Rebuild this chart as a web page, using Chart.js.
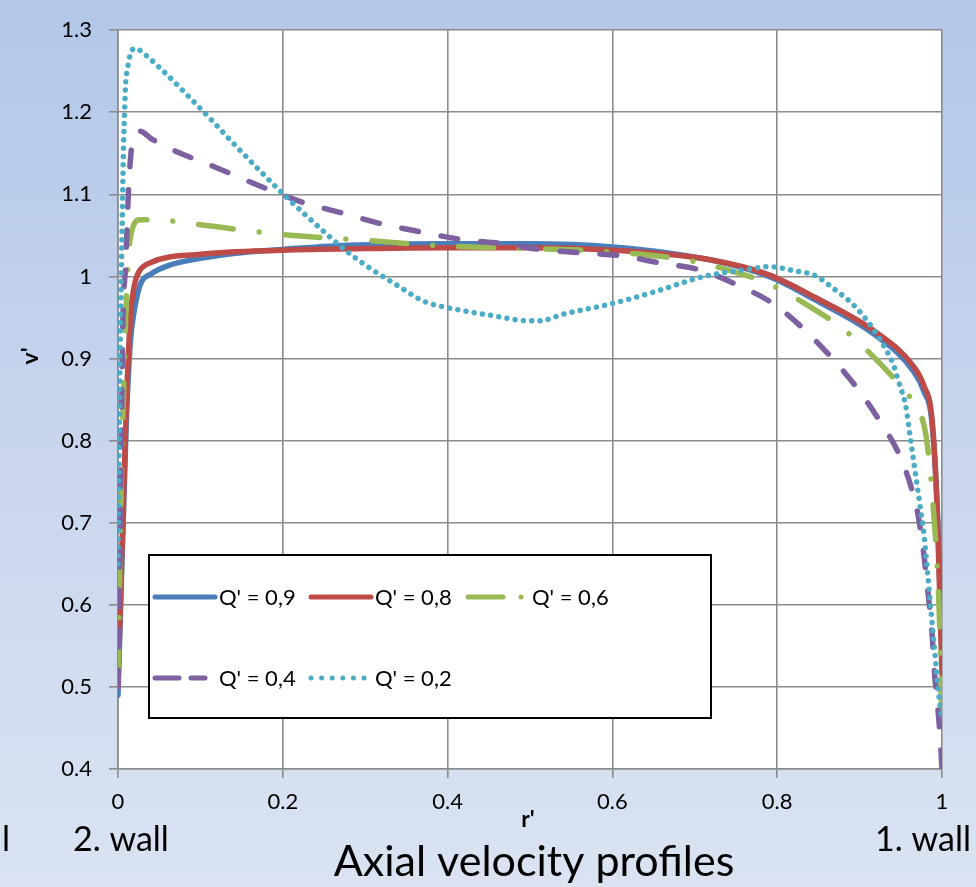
<!DOCTYPE html>
<html>
<head>
<meta charset="utf-8">
<script src="https://cdn.jsdelivr.net/npm/chart.js@4/dist/chart.umd.min.js"></script>
<style>
html,body{margin:0;padding:0;}
body{width:976px;height:887px;overflow:hidden;background:linear-gradient(180deg,#b3c7e8 0%,#c6d4ed 45%,#dbe3f2 100%);}
canvas{display:block;}
</style>
</head>
<body>
<canvas id="c" width="976" height="887"></canvas>
<script>
// ---- data ----
const seriesNames = ["Q' = 0,9", "Q' = 0,8", "Q' = 0,6", "Q' = 0,4", "Q' = 0,2"];
const xTicks = [0, 0.2, 0.4, 0.6, 0.8, 1];
const yTicks = [0.4, 0.5, 0.6, 0.7, 0.8, 0.9, 1, 1.1, 1.2, 1.3];

const r09 = [0, 0.01, 0.015, 0.02, 0.027, 0.04, 0.06, 0.1, 0.14, 0.2, 0.28, 0.4, 0.5, 0.6, 0.72, 0.79, 0.845, 0.92, 0.965, 0.978, 0.988, 0.995, 1];
const v09 = [0.49, 0.82, 0.92, 0.96, 0.99, 1.003, 1.013, 1.022, 1.028, 1.033, 1.038, 1.04, 1.04, 1.036, 1.02, 1.0, 0.972, 0.928, 0.885, 0.86, 0.82, 0.7, 0.53];

const r08 = [0, 0.01, 0.015, 0.02, 0.025, 0.04, 0.1, 0.2, 0.3, 0.4, 0.5, 0.6, 0.72, 0.79, 0.845, 0.92, 0.965, 0.978, 0.988, 0.994, 1];
const v08 = [0.5, 0.84, 0.95, 0.99, 1.005, 1.017, 1.027, 1.032, 1.034, 1.035, 1.035, 1.032, 1.02, 1.002, 0.975, 0.932, 0.891, 0.867, 0.825, 0.72, 0.515];

const r06 = [0, 0.004, 0.008, 0.011, 0.014, 0.018, 0.027, 0.06, 0.1, 0.2, 0.3, 0.4, 0.5, 0.6, 0.69, 0.74, 0.79, 0.84, 0.88, 0.92, 0.955, 0.97, 0.98, 0.986, 0.99, 0.994, 0.997, 1];
const v06 = [0.51, 0.75, 0.9, 1.0, 1.04, 1.06, 1.069, 1.068, 1.063, 1.051, 1.044, 1.037, 1.034, 1.03, 1.02, 1.008, 0.991, 0.963, 0.936, 0.899, 0.86, 0.84, 0.81, 0.76, 0.71, 0.65, 0.58, 0.45];

const r04 = [0, 0.002, 0.004, 0.006, 0.009, 0.011, 0.013, 0.017, 0.027, 0.04, 0.067, 0.116, 0.18, 0.225, 0.273, 0.32, 0.369, 0.417, 0.466, 0.512, 0.56, 0.612, 0.66, 0.706, 0.751, 0.795, 0.831, 0.866, 0.897, 0.925, 0.949, 0.965, 0.971, 0.978, 0.983, 0.988, 0.991, 0.994, 0.997, 1];
const v04 = [0.5, 0.65, 0.8, 0.95, 1.01, 1.06, 1.11, 1.16, 1.177, 1.168, 1.154, 1.134, 1.107, 1.09, 1.077, 1.064, 1.054, 1.045, 1.04, 1.033, 1.029, 1.025, 1.016, 1.008, 0.99, 0.967, 0.937, 0.901, 0.864, 0.823, 0.781, 0.735, 0.709, 0.661, 0.615, 0.564, 0.516, 0.485, 0.449, 0.4];

const r02 = [0, 0.002, 0.003, 0.004, 0.005, 0.006, 0.007, 0.008, 0.009, 0.012, 0.015, 0.021, 0.033, 0.054, 0.084, 0.114, 0.143, 0.173, 0.203, 0.234, 0.255, 0.277, 0.3, 0.336, 0.373, 0.4, 0.45, 0.5, 0.512, 0.54, 0.6, 0.65, 0.7, 0.72, 0.76, 0.79, 0.82, 0.846, 0.87, 0.892, 0.91, 0.926, 0.94, 0.948, 0.956, 0.962, 0.968, 0.974, 0.978, 0.982, 0.987, 0.991, 0.996, 1];
const v02 = [0.65, 0.86, 0.95, 1.0, 1.06, 1.12, 1.17, 1.2, 1.23, 1.256, 1.271, 1.278, 1.27, 1.251, 1.221, 1.19, 1.159, 1.128, 1.098, 1.069, 1.05, 1.031, 1.014, 0.991, 0.969, 0.962, 0.953, 0.946, 0.946, 0.954, 0.967, 0.981, 0.997, 1.002, 1.008, 1.012, 1.007, 1.001, 0.984, 0.966, 0.945, 0.921, 0.895, 0.87, 0.842, 0.8, 0.758, 0.716, 0.687, 0.645, 0.589, 0.545, 0.491, 0.46];

// ---- styles ----
const colors = ['#4a7ebb', '#be4b48', '#98b954', '#7d60a0', '#4aacc5'];
const dashes = [[], [], [35, 26, 0.01, 26], [17, 23], [0.01, 8.3]];
const legendDashes = [[], [], [35, 18, 0.01, 40], [24, 12], [0.01, 10.6]];
const legendSamples = [60, 60, 56, 50, 54];

const rs = [r09, r08, r06, r04, r02];
const vs = [v09, v08, v06, v04, v02];
const FONT = 'Lato, "Liberation Sans", sans-serif';

const datasets = seriesNames.map((name, i) => ({
  label: name,
  data: rs[i].map((r, k) => ({x: r, y: vs[i][k]})),
  borderColor: colors[i],
  backgroundColor: colors[i],
  borderWidth: 5.5,
  borderDash: dashes[i],
  borderCapStyle: 'round',
  borderJoinStyle: 'round',
  pointRadius: 0,
  cubicInterpolationMode: 'monotone',
  fill: false,
  order: seriesNames.length - i
}));

const bgPlugin = {
  id: 'plotBg',
  beforeDraw(chart) {
    const {ctx, chartArea: a} = chart;
    ctx.save();
    ctx.fillStyle = '#ffffff';
    ctx.fillRect(a.left, a.top, a.right - a.left, a.bottom - a.top);
    ctx.restore();
  }
};

const legendPlugin = {
  id: 'boxLegend',
  afterDraw(chart, args, opts) {
    const ctx = chart.ctx;
    const b = opts.box;
    ctx.save();
    ctx.fillStyle = '#ffffff';
    ctx.fillRect(b.x, b.y, b.w, b.h);
    ctx.strokeStyle = '#000000';
    ctx.lineWidth = 2;
    ctx.strokeRect(b.x, b.y, b.w, b.h);
    chart.data.datasets.forEach((ds, i) => {
      const row = Math.floor(i / 3), col = i % 3;
      const x0 = b.x + opts.colX[col];
      const y0 = b.y + opts.rowY[row];
      ctx.strokeStyle = ds.borderColor;
      ctx.lineWidth = 5;
      ctx.lineCap = 'round';
      ctx.setLineDash(legendDashes[i]);
      ctx.beginPath();
      ctx.moveTo(x0, y0);
      ctx.lineTo(x0 + legendSamples[i], y0);
      ctx.stroke();
      ctx.setLineDash([]);
      ctx.fillStyle = '#000000';
      ctx.font = opts.font;
      ctx.textAlign = 'left';
      ctx.textBaseline = 'middle';
      ctx.fillText(ds.label, x0 + opts.textX, y0 + 1);
    });
    ctx.restore();
  }
};

const textPlugin = {
  id: 'extraText',
  afterDraw(chart, args, opts) {
    const ctx = chart.ctx;
    ctx.save();
    ctx.fillStyle = '#000000';
    opts.items.forEach(t => {
      ctx.save();
      ctx.font = t.font;
      ctx.textAlign = t.align;
      ctx.textBaseline = 'middle';
      ctx.translate(t.x, t.y);
      if (t.rot) ctx.rotate(t.rot);
      ctx.fillText(t.text, 0, 0);
      ctx.restore();
    });
    ctx.restore();
  }
};

new Chart(document.getElementById('c'), {
  type: 'line',
  data: {datasets},
  plugins: [bgPlugin, legendPlugin, textPlugin],
  options: {
    responsive: false,
    animation: false,
    events: [],
    layout: {padding: {left: 0, top: 20, right: 34, bottom: 0}},
    plugins: {
      legend: {display: false},
      tooltip: {enabled: false},
      title: {display: false},
      boxLegend: {
        box: {x: 149, y: 555, w: 562, h: 163},
        colX: [6, 162, 319],
        rowY: [42, 123],
        textX: 64,
        font: '22px ' + FONT
      },
      extraText: {
        items: [
          {text: "v'", x: 31, y: 356, rot: -Math.PI / 2, font: 'bold 23px ' + FONT, align: 'center'},
          {text: "r'", x: 528, y: 820, font: 'bold 23px ' + FONT, align: 'center'},
          {text: 'l', x: 2, y: 840, font: '34px ' + FONT, align: 'left'},
          {text: '2. wall', x: 73, y: 840, font: '34px ' + FONT, align: 'left'},
          {text: '1. wall', x: 971, y: 840, font: '34px ' + FONT, align: 'right'},
          {text: 'Axial velocity profiles', x: 534, y: 862, font: '43px ' + FONT, align: 'center'}
        ]
      }
    },
    scales: {
      x: {
        type: 'linear',
        min: 0, max: 1,
        afterBuildTicks(scale) { scale.ticks = xTicks.map(v => ({value: v})); },
        afterFit(scale) { scale.height = 118; },
        ticks: {
          font: {family: FONT, size: 22},
          color: '#000000',
          padding: 11,
          maxRotation: 0,
          callback: v => String(+v.toFixed(2))
        },
        grid: {color: '#8c8c8c', lineWidth: 1.6, tickLength: 9, drawTicks: true},
        border: {color: '#8c8c8c', width: 1.6}
      },
      y: {
        type: 'linear',
        min: 0.4, max: 1.3,
        afterBuildTicks(scale) { scale.ticks = yTicks.map(v => ({value: v})); },
        afterFit(scale) { scale.width = 118; },
        ticks: {
          font: {family: FONT, size: 22},
          color: '#000000',
          padding: 17,
          callback: v => String(+v.toFixed(2))
        },
        grid: {color: '#8c8c8c', lineWidth: 1.6, tickLength: 9, drawTicks: true},
        border: {color: '#8c8c8c', width: 1.6}
      }
    }
  }
});
</script>
</body>
</html>
